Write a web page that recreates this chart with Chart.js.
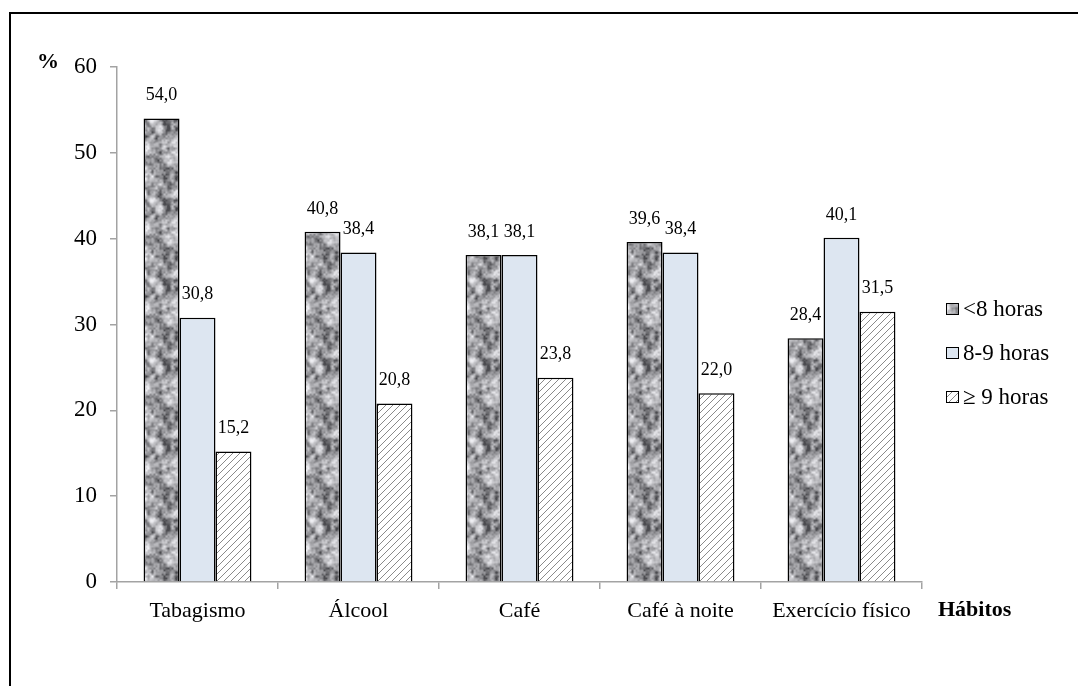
<!DOCTYPE html>
<html lang="pt">
<head>
<meta charset="utf-8">
<title>Hábitos por horas de sono</title>
<script src="https://cdn.jsdelivr.net/npm/chart.js@4.4.1/dist/chart.umd.min.js"></script>
<style>
  html, body { margin: 0; padding: 0; background: #fff; }
  #wrap { width: 1078px; height: 686px; position: relative; }
</style>
</head>
<body>
<div id="wrap"><canvas id="chart" width="1078" height="686"></canvas></div>
<script>
// Habits surveyed and percentage of respondents by nightly sleep duration
const categories = ['Tabagismo', 'Álcool', 'Café', 'Café à noite', 'Exercício físico'];
const seriesNames = ['<8 horas', '8-9 horas', '≥ 9 horas'];
const lessThan8 = [54.0, 40.8, 38.1, 39.6, 28.4];
const from8to9 = [30.8, 38.4, 38.1, 38.4, 40.1];
const atLeast9 = [15.2, 20.8, 23.8, 22.0, 31.5];
const yTicks = [0, 10, 20, 30, 40, 50, 60];

const SERIF = '"Liberation Serif", "Times New Roman", serif';
const AXIS_GREY = '#a3a3a3';

// Mottled grey texture (deterministic value noise)
function hash(x, y) {
  const s = Math.sin(x * 127.1 + y * 311.7) * 43758.5453;
  return s - Math.floor(s);
}
function makeGranite(size) {
  const c = document.createElement('canvas');
  c.width = size; c.height = size;
  const ctx = c.getContext('2d');
  const img = ctx.createImageData(size, size);
  const octaves = [[10, 0.45], [20, 0.35], [40, 0.2]];
  for (let y = 0; y < size; y++) {
    for (let x = 0; x < size; x++) {
      let v = 0;
      for (const [cells, w] of octaves) {
        const fx = x / size * cells, fy = y / size * cells;
        const x0 = Math.floor(fx), y0 = Math.floor(fy);
        const tx = fx - x0, ty = fy - y0;
        const sx = tx * tx * (3 - 2 * tx), sy = ty * ty * (3 - 2 * ty);
        const g = (a, b) => hash(((a % cells) + cells) % cells + cells * 7, ((b % cells) + cells) % cells + cells * 13);
        const a = g(x0, y0), b = g(x0 + 1, y0), cc = g(x0, y0 + 1), d = g(x0 + 1, y0 + 1);
        v += w * ((a * (1 - sx) + b * sx) * (1 - sy) + (cc * (1 - sx) + d * sx) * sy);
      }
      const t = Math.max(0, Math.min(1, (v - 0.2) / 0.6));
      const shade = 75 + Math.pow(t, 0.8) * 170;
      const i = (y * size + x) * 4;
      img.data[i] = shade; img.data[i + 1] = shade; img.data[i + 2] = shade + 4; img.data[i + 3] = 255;
    }
  }
  ctx.putImageData(img, 0, 0);
  return c;
}
function makeHatch(step) {
  const c = document.createElement('canvas');
  c.width = step; c.height = step;
  const ctx = c.getContext('2d');
  ctx.fillStyle = '#ffffff';
  ctx.fillRect(0, 0, step, step);
  ctx.strokeStyle = '#8a8a8a';
  ctx.lineWidth = 1;
  ctx.beginPath();
  for (let k = -1; k <= 1; k++) {
    ctx.moveTo(k * step, step);
    ctx.lineTo(k * step + step, 0);
  }
  ctx.stroke();
  return c;
}

const ctx0 = document.getElementById('chart').getContext('2d');
const granite = ctx0.createPattern(makeGranite(80), 'repeat');
const hatch = ctx0.createPattern(makeHatch(7), 'repeat');
const fills = [granite, '#dde6f1', hatch];

const fmt = v => v.toFixed(1).replace('.', ',');

// Outer frame, value labels, axis titles and legend
const decorations = {
  id: 'decorations',
  beforeDraw(chart) {
    const c = chart.ctx;
    c.save();
    c.fillStyle = '#fff';
    c.fillRect(0, 0, chart.width, chart.height);
    c.strokeStyle = '#000';
    c.lineWidth = 2;
    c.beginPath();
    c.moveTo(10, chart.height + 2);
    c.lineTo(10, 13);
    c.lineTo(chart.width + 2, 13);
    c.stroke();
    c.restore();
  },
  afterDatasetsDraw(chart) {
    const c = chart.ctx;
    c.save();
    c.fillStyle = '#000';
    c.font = '18px ' + SERIF;
    c.textAlign = 'center';
    c.textBaseline = 'middle';
    chart.data.datasets.forEach((ds, di) => {
      chart.getDatasetMeta(di).data.forEach((bar, i) => {
        c.fillText(fmt(ds.data[i]), bar.x, bar.y - 23);
      });
    });

    // axis titles
    c.font = 'bold 22px ' + SERIF;
    c.textAlign = 'center';
    c.fillText('%', 48, 62);
    c.textAlign = 'left';
    c.textBaseline = 'alphabetic';
    c.fillText('Hábitos', 938, 616);

    // legend
    const rows = [309, 353, 397];
    c.font = '23px ' + SERIF;
    c.textBaseline = 'middle';
    seriesNames.forEach((name, i) => {
      const x = 946, y = rows[i] - 6, s = 13;
      c.fillStyle = fills[i];
      c.fillRect(x, y, s, s - 1);
      c.strokeStyle = '#000';
      c.lineWidth = 1;
      c.strokeRect(x + 0.5, y + 0.5, s - 1, s - 2);
      c.fillStyle = '#000';
      c.fillText(name, x + 17, rows[i] + 1);
    });
    c.restore();
  }
};

new Chart(ctx0, {
  type: 'bar',
  data: {
    labels: categories,
    datasets: [lessThan8, from8to9, atLeast9].map((vals, i) => ({
      label: seriesNames[i],
      data: vals,
      backgroundColor: fills[i],
      borderColor: '#000',
      borderWidth: 1.5,
      borderSkipped: 'bottom',
      categoryPercentage: 0.67,
      barPercentage: 1.0
    }))
  },
  options: {
    responsive: false,
    animation: false,
    devicePixelRatio: 1,
    layout: { padding: { left: 0, top: 67, right: 156, bottom: 0 } },
    plugins: { legend: { display: false }, tooltip: { enabled: false } },
    scales: {
      x: {
        grid: { drawOnChartArea: false, drawTicks: true, tickLength: 7, color: AXIS_GREY, lineWidth: 1.5 },
        border: { color: AXIS_GREY, width: 1.5 },
        ticks: { color: '#000', font: { family: SERIF, size: 22 }, padding: 9, maxRotation: 0 },
        afterFit(scale) { scale.height = 104; }
      },
      y: {
        min: 0,
        max: 60,
        afterBuildTicks(scale) { scale.ticks = yTicks.map(v => ({ value: v })); },
        grid: { drawOnChartArea: false, drawTicks: true, tickLength: 7, color: AXIS_GREY, lineWidth: 1.5 },
        border: { color: AXIS_GREY, width: 1.5 },
        ticks: { color: '#000', font: { family: SERIF, size: 23 }, padding: 13 },
        afterFit(scale) { scale.width = 117; }
      }
    }
  },
  plugins: [decorations]
});
</script>
</body>
</html>
